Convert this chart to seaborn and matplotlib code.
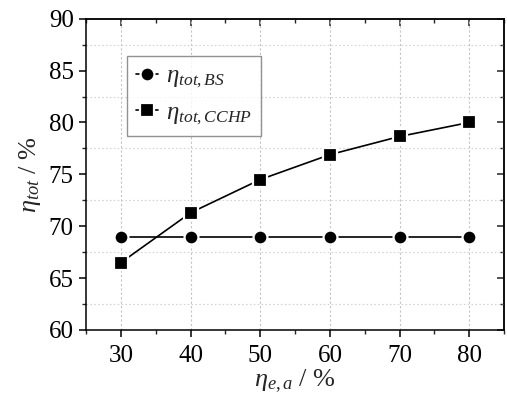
import matplotlib
matplotlib.use("Agg")
import matplotlib.pyplot as plt
from matplotlib.ticker import MultipleLocator
import seaborn as sns
import pandas as pd

# data
eta_ea = [30, 40, 50, 60, 70, 80]
eta_tot_bs = [69.0, 69.0, 69.0, 69.0, 69.0, 69.0]
eta_tot_cchp = [66.5, 71.3, 74.5, 76.9, 78.65, 80.0]
label_bs = r"$\eta_{tot,BS}$"
label_cchp = r"$\eta_{tot,CCHP}$"
xticks = [30, 40, 50, 60, 70, 80]
yticks = [60, 65, 70, 75, 80, 85, 90]

sns.set_style("white")
plt.rcParams["font.family"] = ["Liberation Serif", "DejaVu Serif"]
plt.rcParams["mathtext.fontset"] = "custom"
plt.rcParams["mathtext.rm"] = "Liberation Serif"
plt.rcParams["mathtext.it"] = "Liberation Serif:italic"
plt.rcParams["mathtext.bf"] = "Liberation Serif:bold"

df = pd.DataFrame({"x": eta_ea, "bs": eta_tot_bs, "cchp": eta_tot_cchp})

fig = plt.figure(figsize=(5.07, 3.96), dpi=100)
ax = fig.add_axes([0.170, 0.1667, 0.824, 0.786])

common = dict(color="black", linewidth=1.2, markersize=10,
              markeredgecolor="white", markeredgewidth=1.6)
sns.lineplot(data=df, x="x", y="bs", marker="o", label=label_bs, ax=ax, **common)
sns.lineplot(data=df, x="x", y="cchp", marker="s", label=label_cchp, ax=ax, **common)

ax.set_xlim(25, 85)
ax.set_ylim(60, 90)
ax.set_xticks(xticks)
ax.set_yticks(yticks)
ax.xaxis.set_minor_locator(MultipleLocator(5))
ax.yaxis.set_minor_locator(MultipleLocator(2.5))

ax.grid(False)
ax.xaxis.grid(True, which="major", color="#c4c4c4", linestyle=(0, (2, 2)), linewidth=0.8)
ax.yaxis.grid(True, which="minor", color="#d4d4d4", linestyle=(0, (1.5, 2)), linewidth=0.8)
ax.set_axisbelow(True)

for s in ax.spines.values():
    s.set_visible(True)
    s.set_linewidth(1.1)
    s.set_color("black")

ax.tick_params(axis="both", which="major", direction="out", length=5, width=1.1,
               labelsize=18, colors="black", bottom=True, left=True, pad=4)
ax.tick_params(axis="x", which="major", pad=6)
ax.tick_params(axis="both", which="minor", direction="out", length=3, width=1.0,
               bottom=True, left=True)

# top and right mirrored ticks, pointing inward
top = ax.secondary_xaxis("top")
top.set_xticks(xticks)
top.xaxis.set_minor_locator(MultipleLocator(5))
top.tick_params(which="major", direction="in", length=5, width=1.1, labeltop=False)
top.tick_params(which="minor", direction="in", length=3, width=1.0)
top.spines["top"].set_linewidth(1.1)
right = ax.secondary_yaxis("right")
right.set_yticks(yticks)
right.yaxis.set_minor_locator(MultipleLocator(2.5))
right.tick_params(which="major", direction="in", length=5, width=1.1, labelright=False)
right.tick_params(which="minor", direction="in", length=3, width=1.0)
right.spines["right"].set_linewidth(1.1)

ax.set_xlabel(r"$\eta_{e,a}$ / %", fontsize=19, labelpad=0)
ax.set_ylabel(r"$\eta_{tot}$ / %", fontsize=19, labelpad=4)

leg = ax.legend(loc="upper left", bbox_to_anchor=(0.098, 0.880), fontsize=18,
                frameon=True, fancybox=False, edgecolor="#777777",
                handlelength=0.9, handletextpad=0.3, borderpad=0.35,
                labelspacing=0.45, borderaxespad=0)
leg.get_frame().set_linewidth(1.0)

fig.savefig("out.png", dpi=100)
